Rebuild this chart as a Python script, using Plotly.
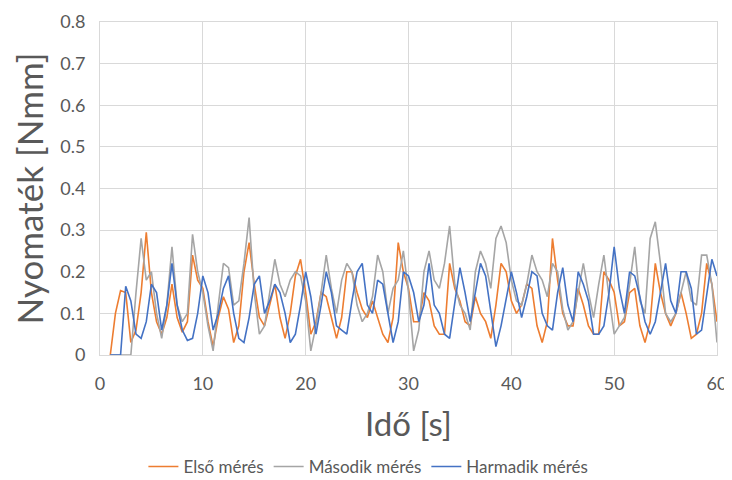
import plotly.graph_objects as go

# time axis: samples every 0.5 s from 1.0 s to 60.0 s
ido = [i * 0.5 for i in range(2, 121)]

elso = [
    0, 0.10, 0.155, 0.15, 0.03, 0.06, 0.15, 0.295, 0.15, 0.08,
    0.05, 0.09, 0.17, 0.09, 0.055, 0.08, 0.24, 0.18, 0.16, 0.08,
    0.02, 0.09, 0.14, 0.11, 0.03, 0.07, 0.2, 0.27, 0.17, 0.09,
    0.07, 0.12, 0.17, 0.09, 0.04, 0.1, 0.19, 0.23, 0.15, 0.05,
    0.08, 0.15, 0.14, 0.09, 0.04, 0.09, 0.2, 0.2, 0.15, 0.11,
    0.09, 0.13, 0.09, 0.05, 0.03, 0.09, 0.27, 0.2, 0.16, 0.08,
    0.08, 0.15, 0.13, 0.07, 0.05, 0.05, 0.22, 0.16, 0.13, 0.08,
    0.07, 0.14, 0.1, 0.08, 0.04, 0.12, 0.22, 0.2, 0.13, 0.1,
    0.12, 0.17, 0.16, 0.07, 0.03, 0.08, 0.28, 0.18, 0.1, 0.07,
    0.07, 0.16, 0.12, 0.07, 0.05, 0.05, 0.2, 0.18, 0.15, 0.07,
    0.08, 0.15, 0.16, 0.07, 0.03, 0.08, 0.22, 0.15, 0.1, 0.07,
    0.1, 0.15, 0.1, 0.04, 0.05, 0.1, 0.22, 0.17, 0.08,
]

masodik = [
    0, 0, 0, 0, 0, 0.15, 0.28, 0.18, 0.2, 0.1,
    0.04, 0.12, 0.26, 0.12, 0.08, 0.1, 0.29, 0.2, 0.15, 0.07,
    0.01, 0.12, 0.22, 0.21, 0.12, 0.13, 0.22, 0.33, 0.15, 0.05,
    0.07, 0.15, 0.23, 0.17, 0.14, 0.18, 0.2, 0.19, 0.13, 0.01,
    0.07, 0.15, 0.24, 0.16, 0.1, 0.18, 0.22, 0.2, 0.12, 0.08,
    0.1, 0.14, 0.24, 0.2, 0.1, 0.16, 0.18, 0.25, 0.15, 0.01,
    0.06, 0.2, 0.25, 0.18, 0.16, 0.22, 0.31, 0.17, 0.12, 0.1,
    0.06, 0.2, 0.25, 0.22, 0.16, 0.28, 0.31, 0.27, 0.18, 0.13,
    0.12, 0.17, 0.24, 0.2, 0.18, 0.14, 0.22, 0.2, 0.11, 0.06,
    0.08, 0.15, 0.22, 0.15, 0.09, 0.17, 0.24, 0.14, 0.05, 0.07,
    0.09, 0.17, 0.26, 0.13, 0.1, 0.28, 0.32, 0.22, 0.1, 0.08,
    0.1, 0.15, 0.2, 0.13, 0.12, 0.24, 0.24, 0.17, 0.03,
]

harmadik = [
    0, 0, 0, 0.165, 0.13, 0.05, 0.04, 0.08, 0.17, 0.15,
    0.06, 0.12, 0.22, 0.12, 0.06, 0.035, 0.04, 0.1, 0.19, 0.15,
    0.06, 0.1, 0.16, 0.19, 0.1, 0.04, 0.03, 0.09, 0.17, 0.19,
    0.1, 0.13, 0.17, 0.15, 0.1, 0.03, 0.05, 0.12, 0.2, 0.14,
    0.05, 0.12, 0.2, 0.15, 0.07, 0.06, 0.05, 0.13, 0.2, 0.22,
    0.12, 0.1, 0.18, 0.17, 0.1, 0.03, 0.08, 0.2, 0.19, 0.15,
    0.08, 0.12, 0.22, 0.12, 0.1, 0.05, 0.04, 0.13, 0.21, 0.15,
    0.08, 0.15, 0.22, 0.19, 0.1, 0.02, 0.07, 0.14, 0.2, 0.15,
    0.09, 0.14, 0.2, 0.19, 0.1, 0.07, 0.06, 0.15, 0.21, 0.12,
    0.08, 0.2, 0.17, 0.13, 0.05, 0.05, 0.07, 0.15, 0.26, 0.16,
    0.1, 0.2, 0.19, 0.14, 0.08, 0.05, 0.08, 0.15, 0.22, 0.13,
    0.1, 0.2, 0.2, 0.16, 0.05, 0.06, 0.15, 0.23, 0.19,
]

series_names = ["Első mérés", "Második mérés", "Harmadik mérés"]
series_values = [elso, masodik, harmadik]
colors = ["#ED7D31", "#A5A5A5", "#4472C4"]

x_ticks = [0, 10, 20, 30, 40, 50, 60]
y_ticks = [0, 0.1, 0.2, 0.3, 0.4, 0.5, 0.6, 0.7, 0.8]
y_labels = ["0", "0.1", "0.2", "0.3", "0.4", "0.5", "0.6", "0.7", "0.8"]

fig = go.Figure()
for name, vals, col in zip(series_names, series_values, colors):
    fig.add_trace(go.Scatter(
        x=ido[:len(vals)], y=vals, mode="lines", name=name,
        line=dict(color=col, width=1.6),
    ))

font_family = "Lato, 'Open Sans', sans-serif"
fig.update_layout(
    width=724, height=472,
    margin=dict(l=92, r=15, t=14, b=125, autoexpand=False),
    paper_bgcolor="white", plot_bgcolor="white",
    font=dict(family=font_family, color="#595959"),
    showlegend=True,
    legend=dict(
        orientation="h", x=0.435, xanchor="center", y=-0.336, yanchor="middle",
        font=dict(size=17, color="#595959"), itemwidth=30,
    ),
    xaxis=dict(
        range=[0, 60], tickvals=x_ticks, showgrid=True, gridcolor="#D9D9D9",
        gridwidth=1, zeroline=False, showline=True, linecolor="#D9D9D9",
        mirror=True, ticks="", tickfont=dict(size=18, color="#595959"),
        ticklabelstandoff=12, automargin=False,
        title=dict(text="Idő [s]", font=dict(size=33, color="#595959"), standoff=20),
    ),
    yaxis=dict(
        range=[0, 0.8], tickvals=y_ticks, ticktext=y_labels, showgrid=True,
        gridcolor="#D9D9D9", gridwidth=1, zeroline=False, showline=True,
        linecolor="#D9D9D9", mirror=True, ticks="",
        tickfont=dict(size=18, color="#595959"),
        ticklabelstandoff=10, automargin=False,
        title=dict(text="Nyomaték [Nmm]", font=dict(size=35, color="#595959"), standoff=8),
    ),
)

fig.write_html("out.html")
